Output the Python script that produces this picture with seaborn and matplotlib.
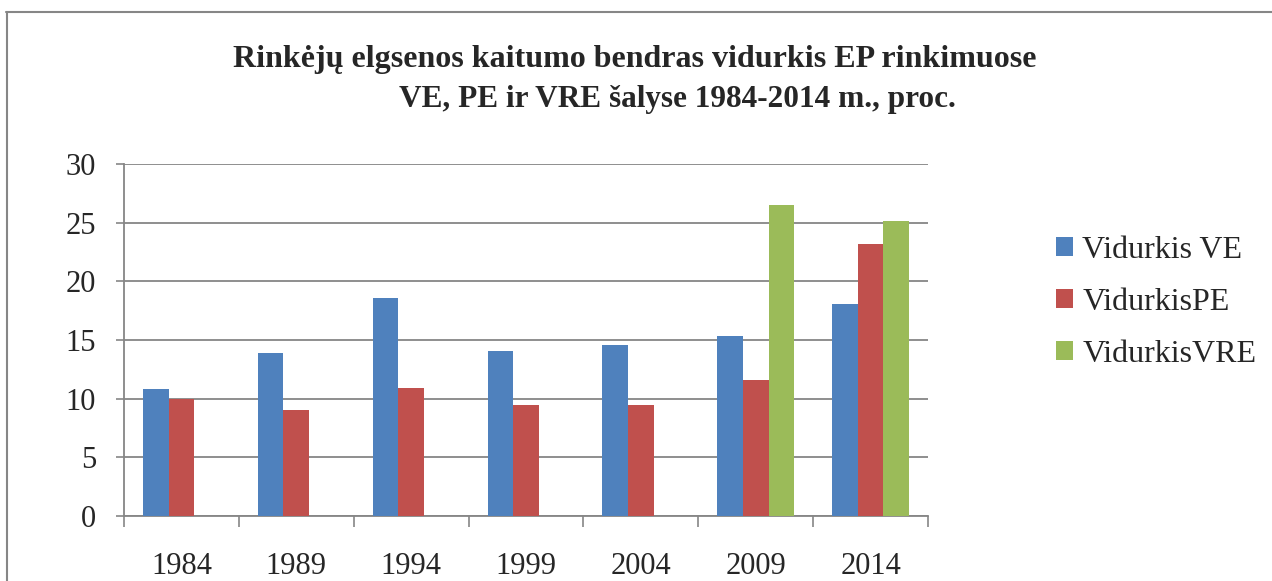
import matplotlib
matplotlib.use("Agg")
import matplotlib.pyplot as plt
import seaborn as sns
import pandas as pd
import numpy as np
from matplotlib.lines import Line2D

years = ["1984", "1989", "1994", "1999", "2004", "2009", "2014"]
vidurkis_ve = [10.85, 13.9, 18.6, 14.05, 14.6, 15.3, 18.1]
vidurkis_pe = [10.0, 9.05, 10.9, 9.5, 9.5, 11.6, 23.2]
vidurkis_vre = [np.nan, np.nan, np.nan, np.nan, np.nan, 26.5, 25.1]
series_names = ["Vidurkis VE", "VidurkisPE", "VidurkisVRE"]
colors = ["#4F81BD", "#C0504D", "#9BBB59"]

df = pd.DataFrame({"metai": years * 3,
                   "serija": [series_names[0]] * 7 + [series_names[1]] * 7 + [series_names[2]] * 7,
                   "reiksme": vidurkis_ve + vidurkis_pe + vidurkis_vre})

sns.set_style("white")
plt.rcParams['font.family'] = ['Liberation Serif', 'DejaVu Serif']

fig = plt.figure(figsize=(12.72, 5.81), dpi=100)
ax = fig.add_axes([124 / 1272, 1 - 516 / 581, (928 - 124) / 1272, (516 - 164) / 581])

sns.barplot(data=df, x="metai", y="reiksme", hue="serija", hue_order=series_names,
            palette=colors, width=0.67, linewidth=0, saturation=1, ax=ax, zorder=3)

grid_c = "#868686"
ax.set_ylim(0, 30)
ax.set_yticks(range(0, 31, 5))
ax.set_xlim(-0.5, 6.5)
ax.set_xticks(np.arange(-0.5, 7, 1))
ax.set_xticklabels([])
ax.set_xticks(range(7), minor=True)
ax.set_xticklabels(years, minor=True)
ax.tick_params(axis="x", which="major", length=8, width=1.2, color=grid_c, direction="out", bottom=True)
ax.tick_params(axis="x", which="minor", length=0, pad=26, labelsize=22)
ax.tick_params(axis="y", length=6, width=1.2, color=grid_c, direction="out", left=True, pad=14, labelsize=22)
ax.yaxis.grid(True, color=grid_c, linewidth=1.3)
ax.set_axisbelow(True)
for s in ["top", "right"]:
    ax.spines[s].set_visible(False)
for s in ["left", "bottom"]:
    ax.spines[s].set_color(grid_c)
    ax.spines[s].set_linewidth(1.3)
ax.set_xlabel("")
ax.set_ylabel("")

ax.legend(loc="center left", bbox_to_anchor=(1040 / 1272, 1 - 302 / 581),
          bbox_transform=fig.transFigure, frameon=False, fontsize=23,
          handlelength=0.53, handleheight=0.53, handletextpad=0.3, labelspacing=0.72,
          borderpad=0)

fig.text(635 / 1272, 1 - 60 / 581, "Rinkėjų elgsenos kaitumo bendras vidurkis EP rinkimuose",
         ha="center", va="center", fontsize=23, fontweight="bold")
fig.text(677 / 1272, 1 - 100 / 581, "VE, PE ir VRE šalyse 1984-2014 m., proc.",
         ha="center", va="center", fontsize=22.5, fontweight="bold")

# chart frame
fig.add_artist(Line2D([6 / 1272, 1], [1 - 12 / 581, 1 - 12 / 581], transform=fig.transFigure,
                      color=grid_c, linewidth=1.5))
fig.add_artist(Line2D([7 / 1272, 7 / 1272], [0, 1 - 12 / 581], transform=fig.transFigure,
                      color=grid_c, linewidth=1.5))

fig.savefig("out.png", dpi=100)
